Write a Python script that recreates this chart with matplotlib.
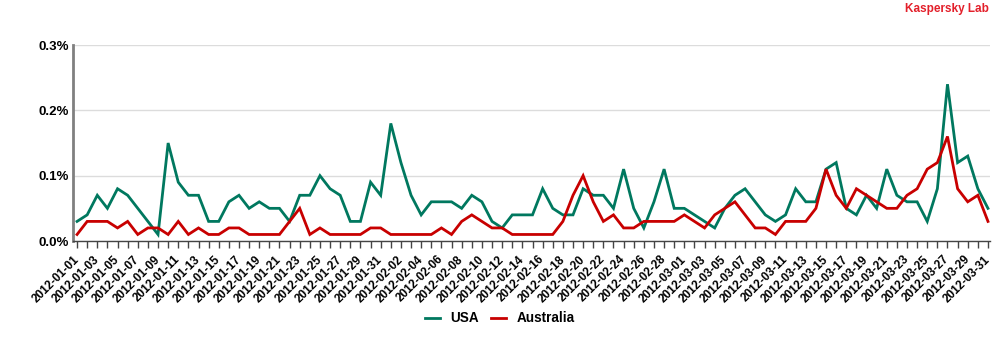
import numpy as np
import pandas as pd
import matplotlib
matplotlib.use("Agg")
import matplotlib.pyplot as plt
from matplotlib.ticker import FuncFormatter

plt.rcParams["font.family"] = ["Liberation Sans", "DejaVu Sans"]
plt.rcParams["font.weight"] = "bold"

dates = pd.date_range("2012-01-01", "2012-03-31", freq="D")

# daily share of detections, in percent
usa = [
    0.03, 0.04, 0.07, 0.05, 0.08, 0.07, 0.05, 0.03, 0.01, 0.15,
    0.09, 0.07, 0.07, 0.03, 0.03, 0.06, 0.07, 0.05, 0.06, 0.05,
    0.05, 0.03, 0.07, 0.07, 0.10, 0.08, 0.07, 0.03, 0.03, 0.09,
    0.07, 0.18, 0.12, 0.07, 0.04, 0.06, 0.06, 0.06, 0.05, 0.07,
    0.06, 0.03, 0.02, 0.04, 0.04, 0.04, 0.08, 0.05, 0.04, 0.04,
    0.08, 0.07, 0.07, 0.05, 0.11, 0.05, 0.02, 0.06, 0.11, 0.05,
    0.05, 0.04, 0.03, 0.02, 0.05, 0.07, 0.08, 0.06, 0.04, 0.03,
    0.04, 0.08, 0.06, 0.06, 0.11, 0.12, 0.05, 0.04, 0.07, 0.05,
    0.11, 0.07, 0.06, 0.06, 0.03, 0.08, 0.24, 0.12, 0.13, 0.08,
    0.05,
]
australia = [
    0.01, 0.03, 0.03, 0.03, 0.02, 0.03, 0.01, 0.02, 0.02, 0.01,
    0.03, 0.01, 0.02, 0.01, 0.01, 0.02, 0.02, 0.01, 0.01, 0.01,
    0.01, 0.03, 0.05, 0.01, 0.02, 0.01, 0.01, 0.01, 0.01, 0.02,
    0.02, 0.01, 0.01, 0.01, 0.01, 0.01, 0.02, 0.01, 0.03, 0.04,
    0.03, 0.02, 0.02, 0.01, 0.01, 0.01, 0.01, 0.01, 0.03, 0.07,
    0.10, 0.06, 0.03, 0.04, 0.02, 0.02, 0.03, 0.03, 0.03, 0.03,
    0.04, 0.03, 0.02, 0.04, 0.05, 0.06, 0.04, 0.02, 0.02, 0.01,
    0.03, 0.03, 0.03, 0.05, 0.11, 0.07, 0.05, 0.08, 0.07, 0.06,
    0.05, 0.05, 0.07, 0.08, 0.11, 0.12, 0.16, 0.08, 0.06, 0.07,
    0.03,
]

GREEN = "#00785F"
RED = "#C80000"

fig = plt.figure(figsize=(10, 3.5), dpi=100)
ax = fig.add_axes([0.073, 0.3114, 0.917, 0.56])

x = np.arange(len(dates))
ax.plot(x, usa, color=GREEN, lw=2.0, label="USA", solid_joinstyle="miter")
ax.plot(x, australia, color=RED, lw=2.0, label="Australia", solid_joinstyle="miter")

ax.set_xlim(-0.4, 90.2)
ax.set_ylim(0, 0.3)
ax.set_yticks([0, 0.1, 0.2, 0.3])
ax.yaxis.set_major_formatter(FuncFormatter(lambda v, _: f"{v:.1f}%"))
ax.grid(axis="y", color="#dcdcdc", lw=1)
ax.set_axisbelow(True)

ax.set_xticks(x)
labels = [d.strftime("%Y-%m-%d") if i % 2 == 0 else "" for i, d in enumerate(dates)]
ax.set_xticklabels(labels, rotation=45, ha="right", va="center",
                   rotation_mode="anchor", fontsize=8.5, fontweight="bold")
ax.tick_params(axis="x", length=5, width=1, color="#444444", pad=7)
ax.tick_params(axis="y", length=0, pad=3, labelsize=9.5)

for side in ("top", "right"):
    ax.spines[side].set_visible(False)
ax.spines["left"].set_color("#808080")
ax.spines["left"].set_linewidth(2)
ax.spines["bottom"].set_color("#444444")
ax.spines["bottom"].set_linewidth(1)

fig.text(0.989, 0.975, "Kaspersky Lab", color="#E3202B", fontsize=8.5,
         fontweight="bold", ha="right", va="center")

fig.legend(loc="center", bbox_to_anchor=(0.5, 0.09), ncol=2, frameon=False,
           fontsize=9.75, handlelength=1.1, handletextpad=0.8, columnspacing=0.9)

fig.savefig("out.png", dpi=100)
